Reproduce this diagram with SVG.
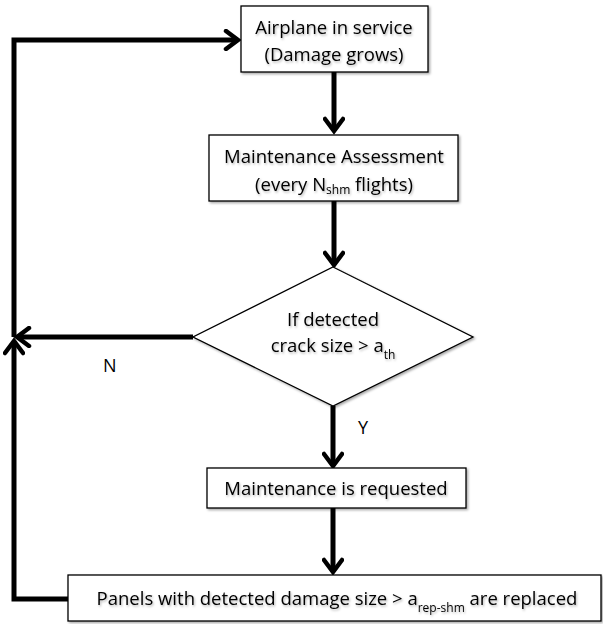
<svg xmlns="http://www.w3.org/2000/svg" width="603" height="624" viewBox="0 0 603 624">
  <defs>
    <filter id="sh" x="-10%" y="-10%" width="130%" height="140%">
      <feDropShadow dx="1.5" dy="1.5" stdDeviation="1.2" flood-color="#000" flood-opacity="0.35"/>
    </filter>
    <filter id="tsh" x="-10%" y="-20%" width="130%" height="160%">
      <feDropShadow dx="1" dy="1.5" stdDeviation="1" flood-color="#000" flood-opacity="0.3"/>
    </filter>
    <marker id="arr" markerWidth="22" markerHeight="22" refX="15" refY="11" orient="auto" markerUnits="userSpaceOnUse">
      <path d="M3,2 L15,11 L3,20" fill="none" stroke="#000" stroke-width="4.5" stroke-linecap="round" stroke-linejoin="miter"/>
    </marker>
  </defs>
  <style>
    .box { fill: #fff; stroke: #000; stroke-width: 1.3; filter: url(#sh); }
    .t { font-family: "Open Sans", "Liberation Sans", Arial, sans-serif; font-size: 18.5px; fill: #000; text-anchor: middle; filter: url(#tsh); }
    .lbl { font-family: "Open Sans", "Liberation Sans", Arial, sans-serif; font-size: 18px; fill: #000; }
    .sub { font-size: 12px; }
    .c { fill: none; stroke: #000; stroke-width: 5; stroke-linejoin: miter; }
  </style>
  <rect width="603" height="624" fill="#fff"/>

  <g id="connectors">
    <path class="c" d="M334,72 L334,131" marker-end="url(#arr)"/>
    <path class="c" d="M334,201 L334,265" marker-end="url(#arr)"/>
    <path class="c" d="M193,337 L17,337" marker-end="url(#arr)"/>
    <path class="c" d="M333,406 L333,466" marker-end="url(#arr)"/>
    <path class="c" d="M333,508 L333,572" marker-end="url(#arr)"/>
    <path class="c" d="M68,599 L14,599 L14,341" marker-end="url(#arr)"/>
    <path class="c" d="M14,337 L14,40 L238,40" marker-end="url(#arr)"/>
    <text class="lbl" x="103" y="372">N</text>
    <text class="lbl" x="358" y="434">Y</text>
  </g>

  <g id="n1">
    <rect class="box" x="241" y="6" width="187" height="66"/>
    <text class="t" x="334" y="34">Airplane in service</text>
    <text class="t" x="334" y="61">(Damage grows)</text>
  </g>

  <g id="n2">
    <rect class="box" x="209" y="135" width="249" height="66"/>
    <text class="t" x="334" y="163">Maintenance Assessment</text>
    <text class="t" x="334" y="191">(every N<tspan class="sub" dy="3">shm</tspan><tspan dy="-3"> flights)</tspan></text>
  </g>

  <g id="n3">
    <polygon class="box" points="333,267 473,337 333,406 193,337"/>
    <text class="t" x="333" y="326">If detected</text>
    <text class="t" x="333" y="352">crack size &gt; a<tspan class="sub" dy="7">th</tspan></text>
  </g>

  <g id="n4">
    <rect class="box" x="207" y="468" width="259" height="40"/>
    <text class="t" x="336" y="495">Maintenance is requested</text>
  </g>

  <g id="n5">
    <rect class="box" x="68" y="575" width="533" height="46"/>
    <text class="t" x="337" y="605">Panels with detected damage size &gt; a<tspan class="sub" dy="7">rep-shm</tspan><tspan dy="-7"> are replaced</tspan></text>
  </g>
</svg>
